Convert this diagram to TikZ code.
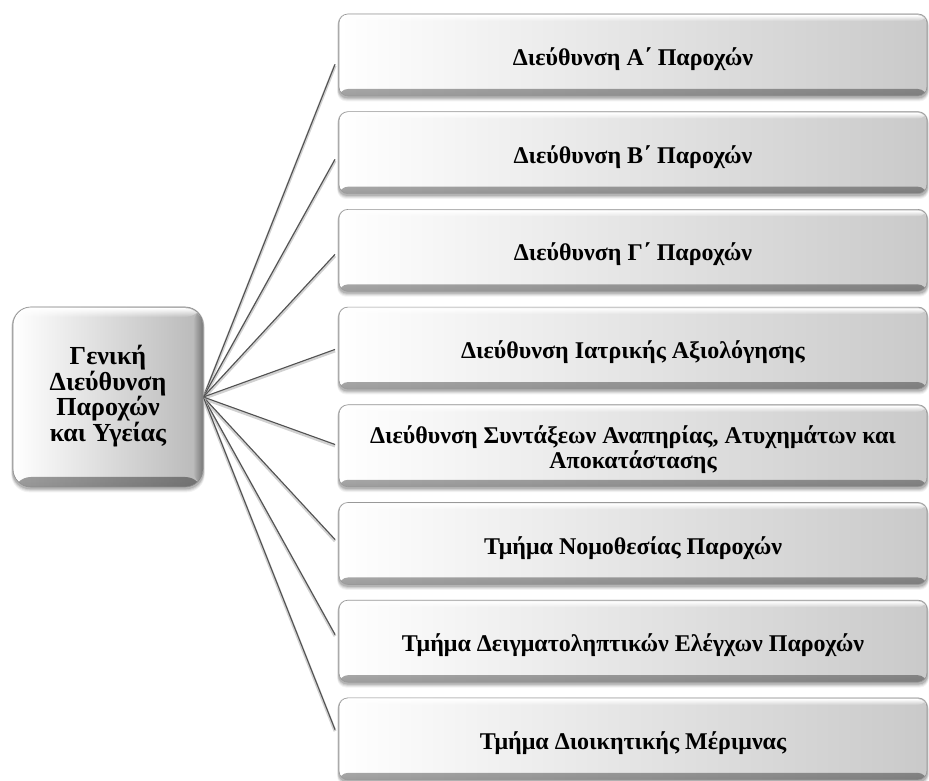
\documentclass[tikz,border=0pt]{standalone}
\usepackage{fontspec}
\setmainfont{Liberation Serif}
\usetikzlibrary{calc,fadings,backgrounds}

% opaque at the bottom, clear at the top (and the reverse)
\tikzfading[name=fadeup, top color=transparent!100, bottom color=transparent!0]
\tikzfading[name=fadedown, top color=transparent!0, bottom color=transparent!100]
\tikzfading[name=faderight, left color=transparent!100, right color=transparent!0]

% soft shadow under a node: stacked translucent copies
\newcommand\softshadow[2]{%
  \foreach \o/\a in {5/0.05,4/0.07,3/0.09,2/0.12}{%
    \fill[black, opacity=\a, rounded corners=#2]
      ($(#1.south west)+(-0.3*\o,-\o)$) rectangle ($(#1.north east)+(0.3*\o,2-\o)$);
  }}
% label text, drawn a little below the centre of its box
\newcommand\lbl[1]{\raisebox{-5pt}[\height][\depth]{\begin{tabular}{@{}c@{}}#1\end{tabular}}}

\begin{document}
\begin{tikzpicture}[x=1pt, y=1pt,
  bevel/.style={
    path picture={
      \fill[black, opacity=0.38, path fading=fadeup]
        (path picture bounding box.south west) rectangle
        ($(path picture bounding box.south east)+(0,#1)$);
      \fill[white, path fading=fadedown]
        ($(path picture bounding box.north west)+(0,-1.2)$) rectangle
        ($(path picture bounding box.north east)+(0,-#1)$);
    }},
  hubbevel/.style={
    path picture={
      \fill[black, opacity=0.4, path fading=fadeup]
        (path picture bounding box.south west) rectangle
        ($(path picture bounding box.south east)+(0,#1)$);
      \fill[black, opacity=0.35, path fading=faderight]
        ($(path picture bounding box.south east)+(-#1,0)$) rectangle
        (path picture bounding box.north east);
      \fill[white, path fading=fadedown]
        ($(path picture bounding box.north west)+(0,-1.2)$) rectangle
        ($(path picture bounding box.north east)+(0,-#1)$);
    }},
  deptbox/.style={draw=black!40, line width=0.6pt, rounded corners=9pt,
    minimum width=588pt, minimum height=82pt, inner sep=0pt,
    left color=white, right color=black!21, bevel=7,
    font=\bfseries\fontsize{24}{28}\selectfont},
  hubbox/.style={draw=black!45, line width=0.6pt, rounded corners=18pt,
    minimum width=190pt, minimum height=180pt, inner sep=0pt,
    left color=white, right color=black!28, hubbevel=10},
  hubtext/.style={inner sep=0pt, font=\bfseries\fontsize{26}{30}\selectfont},
  link/.style={draw=black!68, line width=1.1pt},
  linkhalo/.style={draw=black!18, line width=3pt},
]
\useasboundingbox (0,0) rectangle (929,780);

% central unit
\node[hubbox] (g) at (108,383) {};
\node[hubtext] (gt) at (g.center)
  {\begin{tabular}{@{}c@{}}Γενική\\[-4.5pt]Διεύθυνση\\[-4.5pt]Παροχών\\[-4.5pt]και Υγείας\end{tabular}};

% subordinate units
\node[deptbox] (d1) at (633,725.0) {\lbl{Διεύθυνση Α΄ Παροχών}};
\node[deptbox] (d2) at (633,627.3) {\lbl{Διεύθυνση Β΄ Παροχών}};
\node[deptbox] (d3) at (633,529.6) {\lbl{Διεύθυνση Γ΄ Παροχών}};
\node[deptbox] (d4) at (633,431.9) {\lbl{Διεύθυνση Ιατρικής Αξιολόγησης}};
\node[deptbox] (d5) at (633,334.2) {\lbl{Διεύθυνση Συντάξεων Αναπηρίας, Ατυχημάτων και\\[-3pt]Αποκατάστασης}};
\node[deptbox] (d6) at (633,236.5) {\lbl{Τμήμα Νομοθεσίας Παροχών}};
\node[deptbox] (d7) at (633,138.8) {\lbl{Τμήμα Δειγματοληπτικών Ελέγχων Παροχών}};
\node[deptbox] (d8) at (633,41.1) {\lbl{Τμήμα Διοικητικής Μέριμνας}};

\begin{scope}[on background layer]
  \softshadow{g}{18pt}
  \foreach \n in {d1,d2,d3,d4,d5,d6,d7,d8}{\softshadow{\n}{9pt}}
  \foreach \n in {d1,d2,d3,d4,d5,d6,d7,d8}{
    \draw[linkhalo] ([yshift=-1.5pt]g.east) -- ([yshift=-1.5pt]$(\n.west)!0.027!(g.east)$);
    \draw[link] (g.east) -- ($(\n.west)!0.027!(g.east)$);
  }
\end{scope}
\end{tikzpicture}
\end{document}
